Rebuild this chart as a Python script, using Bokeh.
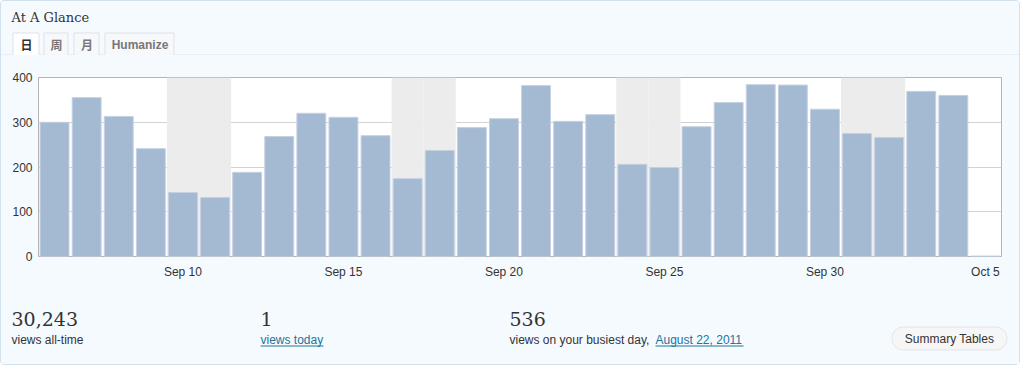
from bokeh.plotting import figure
from bokeh.layouts import column
from bokeh.models import BoxAnnotation, FixedTicker
from bokeh.core.properties import value
from bokeh.embed import file_html
from bokeh.resources import INLINE

days = ["Sep 6", "Sep 7", "Sep 8", "Sep 9", "Sep 10", "Sep 11", "Sep 12", "Sep 13",
        "Sep 14", "Sep 15", "Sep 16", "Sep 17", "Sep 18", "Sep 19", "Sep 20", "Sep 21",
        "Sep 22", "Sep 23", "Sep 24", "Sep 25", "Sep 26", "Sep 27", "Sep 28", "Sep 29",
        "Sep 30", "Oct 1", "Oct 2", "Oct 3", "Oct 4", "Oct 5"]
views = [300, 355, 313, 241, 143, 132, 188, 268, 320, 311, 270, 174, 237, 288, 308, 382,
         302, 317, 206, 199, 290, 344, 384, 383, 329, 275, 266, 369, 360, 1]
weekend_days = ["Sep 10", "Sep 11", "Sep 17", "Sep 18", "Sep 24", "Sep 25", "Oct 1", "Oct 2"]
tick_days = ["Sep 10", "Sep 15", "Sep 20", "Sep 25", "Sep 30", "Oct 5"]
y_ticks = [0, 100, 200, 300, 400]
tabs = ["日", "周", "月", "Humanize"]
stats = ["30,243", "1", "536"]
stat_labels = ["views all-time", "views today", "views on your busiest day,"]
busiest_date = "August 22, 2011"

BG = "#f5faff"
INNER_W = 1018

def blank_fig(height, y_top, y_bottom):
    f = figure(width=INNER_W, height=height, output_backend="svg", toolbar_location=None,
               x_range=(1, 1019), y_range=(y_bottom, y_top), min_border=0,
               x_axis_location=None, y_axis_location=None, frame_align=False)
    f.grid.visible = False
    f.outline_line_color = None
    f.background_fill_color = BG
    f.border_fill_color = BG
    return f

def txt(f, t, x, y, size="12px", font="Liberation Sans", color="#333333",
        style="normal", align="left"):
    f.text(x=[x], y=[y], text=[t], text_font=value(font), text_font_size=size,
           text_color=color, text_font_style=style, text_align=align,
           text_baseline="middle")

# ---------- header ----------
hp = blank_fig(54, 1, 55)
txt(hp, "At A Glance", 11, 17, size="13px", font="DejaVu Serif")
hp.segment(x0=[1], x1=[1019], y0=[54.5], y1=[54.5], line_color="#d6e3ee", line_width=1)
tab_x = [(12, 38), (43, 67), (73, 98), (104, 173)]
for k, (t, (l, r)) in enumerate(zip(tabs, tab_x)):
    active = k == 0
    hp.quad(left=[l + 0.5], right=[r + 0.5], top=[32.5], bottom=[55.5 if active else 54.5],
            fill_color="#ffffff" if active else "#f6f8fa", line_color=None)
    hp.multi_line(xs=[[l + 0.5, l + 0.5, r + 0.5, r + 0.5]],
                  ys=[[55 if active else 54.5, 32.5, 32.5, 55 if active else 54.5]],
                  line_color="#dde3ea", line_width=1)
    txt(hp, t, (l + r) / 2 + 1, 44, size="12px",
        font="Noto Sans CJK SC" if k < 3 else "Liberation Sans",
        color="#333333" if active else "#777777", style="bold", align="center")

# ---------- chart ----------
x = list(range(len(days)))
p = figure(width=INNER_W, height=230, output_backend="svg", toolbar_location=None,
           x_range=(-0.5, len(days) - 0.5), y_range=(0, 400), frame_align=False,
           min_border_left=37, min_border_right=18, min_border_top=22, min_border_bottom=29)
p.background_fill_color = "#ffffff"
p.border_fill_color = BG
p.outline_line_color = "#b4b4b4"

for d in weekend_days:
    i = days.index(d)
    p.add_layout(BoxAnnotation(left=i - 0.5, right=i + 0.5, fill_color="#ececec",
                               fill_alpha=1, line_color=None, level="underlay"))

p.vbar(x=x, top=views, width=0.9, fill_color="#a4bad3", line_color="#c3d1e1", line_width=1)

p.xgrid.grid_line_color = None
p.ygrid.grid_line_color = "#d2d2d2"
p.ygrid.ticker = FixedTicker(ticks=y_ticks)
p.yaxis.ticker = FixedTicker(ticks=y_ticks)
p.xaxis.ticker = FixedTicker(ticks=[days.index(d) for d in tick_days])
p.xaxis.major_label_overrides = {days.index(d): d for d in tick_days}
for ax in (p.xaxis, p.yaxis):
    ax.axis_line_color = None
    ax.major_tick_line_color = None
    ax.minor_tick_line_color = None
    ax.major_tick_in = 0
    ax.major_tick_out = 0
    ax.major_label_text_font = "Liberation Sans"
    ax.major_label_text_font_size = "12px"
    ax.major_label_text_color = "#333333"
p.xaxis.major_label_standoff = 8
p.yaxis.major_label_standoff = 6

# ---------- footer ----------
fp = blank_fig(79, 285, 364)
stat_x = [11, 260, 509]
for s, sx in zip(stats, stat_x):
    txt(fp, s, sx, 318, size="19px", font="DejaVu Serif")
link = "#21759b"
txt(fp, stat_labels[0], 11, 339)
txt(fp, stat_labels[1], 260, 339, color=link)
fp.segment(x0=[260], x1=[323], y0=[345.5], y1=[345.5], line_color=link, line_width=1)
txt(fp, stat_labels[2], 509, 339)
txt(fp, busiest_date, 655, 339, color=link)
fp.segment(x0=[655], x1=[743], y0=[345.5], y1=[345.5], line_color=link, line_width=1)
fp.add_layout(BoxAnnotation(left=891.5, right=1006.5, top=326.5, bottom=349.5,
                            fill_color="#f6f6f6", fill_alpha=1, line_color="#bbbbbb",
                            border_radius=11, level="underlay"))
txt(fp, "Summary Tables", 949, 338, align="center")

layout = column(hp, p, fp, spacing=0,
                styles={"border": "1px solid #cfe0ee", "border-radius": "4px",
                        "background-color": BG})

open("out.html", "w").write(file_html(layout, INLINE))
